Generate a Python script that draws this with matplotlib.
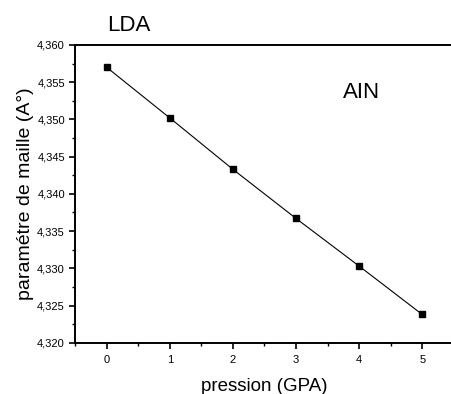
import matplotlib
matplotlib.use("Agg")
import matplotlib.pyplot as plt
from matplotlib.ticker import MultipleLocator, FuncFormatter

plt.rcParams['font.family'] = ['Liberation Sans', 'DejaVu Sans']

pression = [0, 1, 2, 3, 4, 5]
parametre = [4.3570, 4.3502, 4.3433, 4.3367, 4.3303, 4.3238]

fig = plt.figure(figsize=(4.52, 3.94), dpi=100)
ax = fig.add_axes([0.166, 0.130, 0.838, 0.756])

ax.plot(pression, parametre, color='black', linewidth=0.8,
        marker='s', markersize=5, markerfacecolor='black', markeredgecolor='black')

ax.set_xlim(-0.5, 5.5)
ax.set_ylim(4.320, 4.360)

ax.xaxis.set_major_locator(MultipleLocator(1))
ax.xaxis.set_minor_locator(MultipleLocator(0.5))
ax.yaxis.set_major_locator(MultipleLocator(0.005))
ax.yaxis.set_minor_locator(MultipleLocator(0.0025))
ax.yaxis.set_major_formatter(FuncFormatter(lambda v, p: f"{v:.3f}".replace('.', ',')))

for s in ['left', 'bottom', 'top']:
    ax.spines[s].set_linewidth(1.4)
ax.spines['right'].set_visible(False)

ax.tick_params(which='major', direction='out', length=4.3, width=1.2, labelsize=8, pad=3)
ax.tick_params(which='minor', direction='out', length=2.5, width=1.0)
ax.tick_params(axis='x', which='major', pad=4.5)

ax.set_xlabel('pression (GPA)', fontsize=13.5, labelpad=9)
ax.set_ylabel('paramétre de maille (A°)', fontsize=14, labelpad=2.5)

fig.text(0.236, 0.936, 'LDA', fontsize=16, ha='left', va='center')
fig.text(0.759, 0.765, 'AIN', fontsize=16, ha='left', va='center')

fig.savefig('out.png', dpi=100)
